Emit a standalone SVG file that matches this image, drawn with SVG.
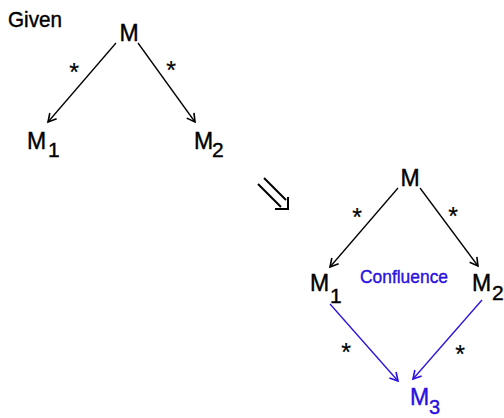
<svg xmlns="http://www.w3.org/2000/svg" width="504" height="418" viewBox="0 0 504 418">
<style>
.t{font-family:"Liberation Sans","DejaVu Sans",sans-serif;fill:#000;stroke:#000;stroke-width:0.4}
.b{fill:#2a10e0;stroke:#2a10e0}
.m{font-size:23px}
.s{font-size:21px}
.st{font-size:25px;stroke-width:0.2}
.lk{stroke:#000;stroke-width:1.3;fill:none}
.lb{stroke:#2a10e0;stroke-width:1.3;fill:none}
</style>
<defs>
<marker id="ak" markerWidth="12" markerHeight="12" refX="9" refY="5" orient="auto" markerUnits="userSpaceOnUse" viewBox="0 0 12 10">
<path d="M1,0.5 L9,5 L1,9.5" fill="none" stroke="#000" stroke-width="1.6"/>
</marker>
<marker id="ab" markerWidth="12" markerHeight="12" refX="9" refY="5" orient="auto" markerUnits="userSpaceOnUse" viewBox="0 0 12 10">
<path d="M1,0.5 L9,5 L1,9.5" fill="none" stroke="#2a10e0" stroke-width="1.6"/>
</marker>
</defs>
<text class="t" x="8" y="27" font-size="22" textLength="54" lengthAdjust="spacingAndGlyphs">Given</text>
<g id="connectors">
<line class="lk" x1="116" y1="43" x2="48" y2="122" marker-end="url(#ak)"/>
<line class="lk" x1="138" y1="43" x2="195" y2="122" marker-end="url(#ak)"/>
<line class="lk" x1="398" y1="188" x2="330" y2="267" marker-end="url(#ak)"/>
<line class="lk" x1="420" y1="188" x2="478" y2="266" marker-end="url(#ak)"/>
<line class="lb" x1="330" y1="304" x2="398" y2="381" marker-end="url(#ab)"/>
<line class="lb" x1="482" y1="300" x2="413" y2="379" marker-end="url(#ab)"/>
<text class="t st" x="74" y="81" text-anchor="middle">*</text>
<text class="t st" x="171" y="79" text-anchor="middle">*</text>
<text class="t st" x="357" y="226" text-anchor="middle">*</text>
<text class="t st" x="453" y="225" text-anchor="middle">*</text>
<text class="t st" x="346" y="361" text-anchor="middle">*</text>
<text class="t st" x="460" y="363" text-anchor="middle">*</text>
</g>
<g id="implies">
<path d="M258,184 L281,207 M264,178 L286,200" stroke="#000" stroke-width="2" fill="none"/>
<path d="M275,209 L288,209 L288,197" stroke="#000" stroke-width="2" fill="none"/>
</g>
<g id="g1-M"><text class="t m" x="129" y="41" text-anchor="middle">M</text></g>
<g id="g1-M1"><text class="t m" x="27" y="149">M</text><text class="t s" x="48" y="157">1</text></g>
<g id="g1-M2"><text class="t m" x="194" y="149">M</text><text class="t s" x="212" y="157">2</text></g>
<g id="g2-M"><text class="t m" x="410" y="186" text-anchor="middle">M</text></g>
<g id="g2-M1"><text class="t m" x="310" y="291">M</text><text class="t s" x="330" y="303">1</text></g>
<g id="g2-M2"><text class="t m" x="472" y="291">M</text><text class="t s" x="492" y="300">2</text></g>
<g id="g2-M3"><text class="t b m" x="410" y="405">M</text><text class="t b" x="429" y="414" font-size="20">3</text></g>
<g id="confluence"><text class="t b" x="360" y="283" font-size="19" textLength="88" lengthAdjust="spacingAndGlyphs">Confluence</text></g>
</svg>
